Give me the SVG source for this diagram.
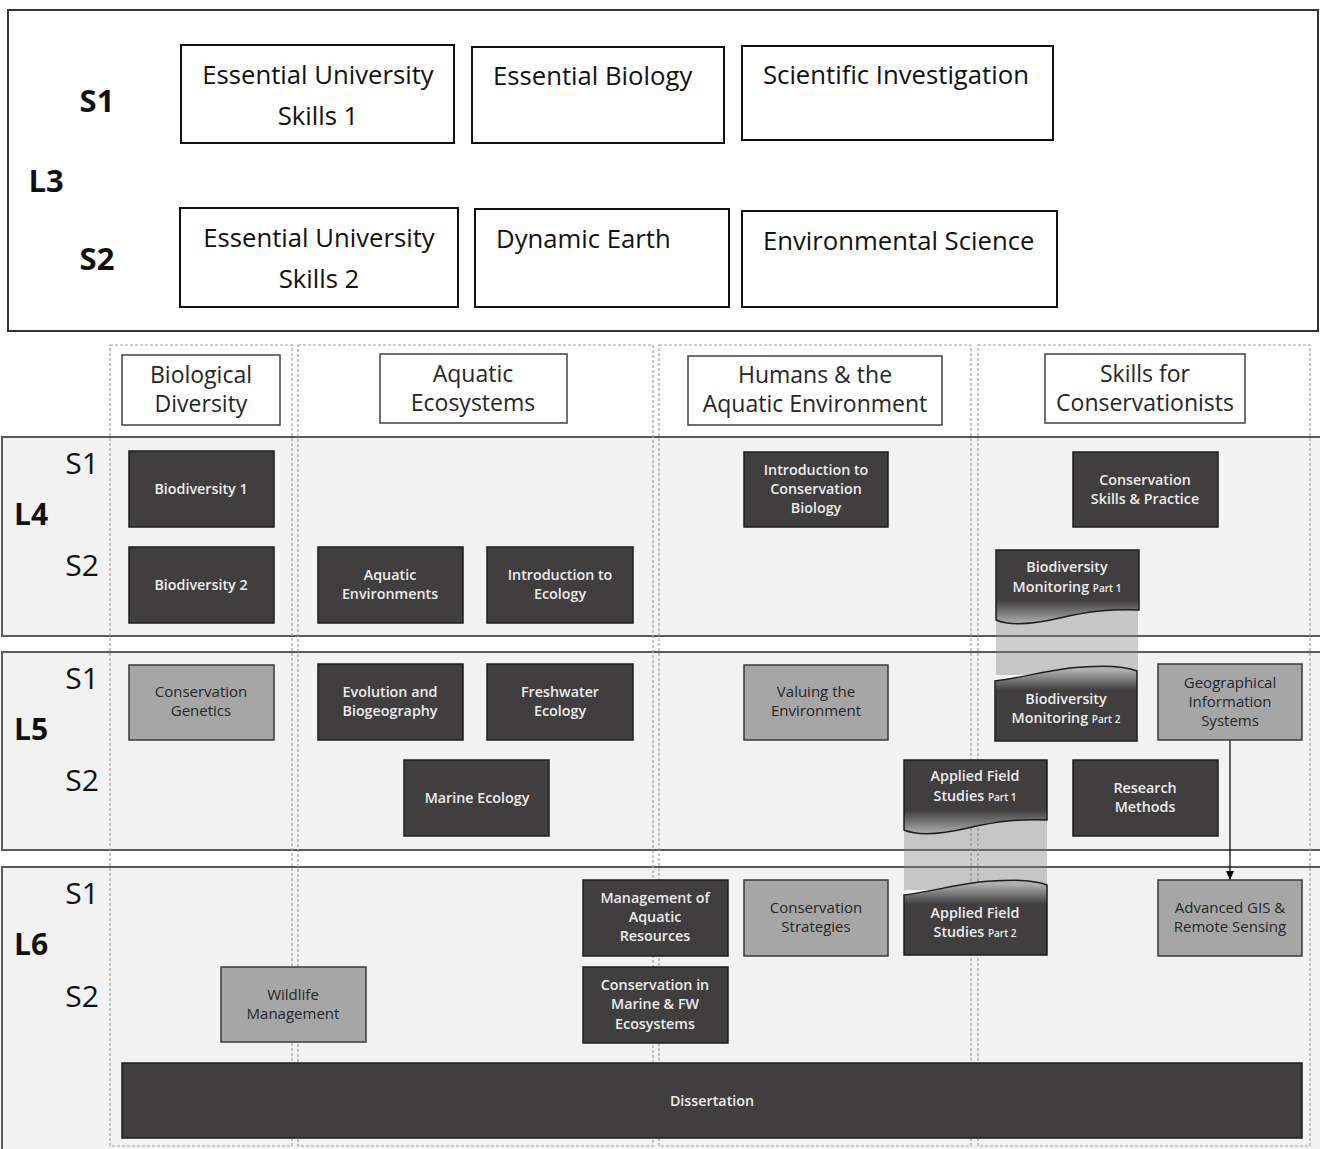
<svg xmlns="http://www.w3.org/2000/svg" width="1320" height="1149" viewBox="0 0 1320 1149">
<defs>
<style>
.top{font-family:"Open Sans","Liberation Sans",sans-serif;font-size:25.7px;fill:#111;}
.box3{fill:#fff;stroke:#111;stroke-width:2;}
.lbl{font-family:"Open Sans","Liberation Sans",sans-serif;font-size:30px;fill:#111;}
.lb3{font-family:"Open Sans","Liberation Sans",sans-serif;font-size:31px;font-weight:bold;fill:#111;}
.b{font-weight:bold;}
.band{fill:#f2f2f2;stroke:#5a5a5a;stroke-width:2;}
.col{fill:none;stroke:#a0a0a0;stroke-width:1.2;stroke-dasharray:3 2;}
.hdr{fill:#fff;stroke:#404040;stroke-width:1.5;}
.htx{font-family:"Open Sans","Liberation Sans",sans-serif;font-size:23px;fill:#262626;text-anchor:middle;}
.dk{fill:#403e3e;stroke:#1e1e1e;stroke-width:1.5;}
.lt{fill:#a6a6a6;stroke:#3a3a3a;stroke-width:1.5;}
.dtx{font-family:"Open Sans","Liberation Sans",sans-serif;font-size:14.3px;font-weight:600;fill:#ececec;text-anchor:middle;}
.ltx{font-family:"Open Sans","Liberation Sans",sans-serif;font-size:15px;fill:#262626;text-anchor:middle;}
.sm{font-size:10px;}
.link{fill:#7f7f7f;opacity:0.38;}
</style>
<linearGradient id="gBot" x1="0" y1="0" x2="0" y2="1">
<stop offset="0.68" stop-color="#403e3e"/>
<stop offset="1" stop-color="#b0b0b0"/>
</linearGradient>
<linearGradient id="gTop" x1="0" y1="0" x2="0" y2="1">
<stop offset="0.05" stop-color="#b0b0b0"/>
<stop offset="0.32" stop-color="#403e3e"/>
</linearGradient>
<marker id="arr" markerWidth="10" markerHeight="10" refX="9" refY="5" orient="auto" markerUnits="userSpaceOnUse">
<path d="M0,1 L9,5 L0,9 Z" fill="#000"/>
</marker>
</defs>
<rect width="1320" height="1149" fill="#fff"/>

<!-- Level 3 panel -->
<g id="level3">
<rect x="8" y="10" width="1310" height="321" fill="#fff" stroke="#333" stroke-width="2"/>
<text class="lb3" x="97" y="112" text-anchor="middle">S1</text>
<text class="lb3" x="46" y="192" text-anchor="middle">L3</text>
<text class="lb3" x="97" y="270" text-anchor="middle">S2</text>
</g>
<g id="eus1"><rect class="box3" x="181" y="45" width="273" height="98"/>
<text class="top" x="318" y="84" text-anchor="middle">Essential University</text>
<text class="top" x="318" y="125" text-anchor="middle">Skills 1</text></g>
<g id="essbio"><rect class="box3" x="472" y="47" width="252" height="96"/>
<text class="top" x="493" y="85">Essential Biology</text></g>
<g id="sciinv"><rect class="box3" x="742" y="46" width="311" height="94"/>
<text class="top" x="763" y="84">Scientific Investigation</text></g>
<g id="eus2"><rect class="box3" x="180" y="208" width="278" height="99"/>
<text class="top" x="319" y="247" text-anchor="middle">Essential University</text>
<text class="top" x="319" y="288" text-anchor="middle">Skills 2</text></g>
<g id="dynearth"><rect class="box3" x="475" y="209" width="254" height="98"/>
<text class="top" x="496" y="248">Dynamic Earth</text></g>
<g id="envsci"><rect class="box3" x="742" y="211" width="315" height="96"/>
<text class="top" x="763" y="250">Environmental Science</text></g>

<!-- Level bands -->
<g id="bands">
<rect class="band" x="2" y="437" width="1330" height="199"/>
<rect class="band" x="2" y="652" width="1330" height="198"/>
<rect class="band" x="2" y="867" width="1330" height="300"/>
<text class="lbl" x="82" y="474" text-anchor="middle">S1</text>
<text class="lbl b" x="31" y="525" text-anchor="middle">L4</text>
<text class="lbl" x="82" y="576" text-anchor="middle">S2</text>
<text class="lbl" x="82" y="689" text-anchor="middle">S1</text>
<text class="lbl b" x="31" y="740" text-anchor="middle">L5</text>
<text class="lbl" x="82" y="791" text-anchor="middle">S2</text>
<text class="lbl" x="82" y="904" text-anchor="middle">S1</text>
<text class="lbl b" x="31" y="955" text-anchor="middle">L6</text>
<text class="lbl" x="82" y="1007" text-anchor="middle">S2</text>
</g>

<!-- Theme columns -->
<g id="col-biodiv"><rect class="col" x="110" y="345" width="182" height="801"/>
<rect class="hdr" x="122" y="355" width="158" height="70"/>
<text class="htx" x="201" y="383">Biological</text><text class="htx" x="201" y="412">Diversity</text></g>
<g id="col-aquatic"><rect class="col" x="298" y="345" width="355" height="801"/>
<rect class="hdr" x="380" y="354" width="187" height="69"/>
<text class="htx" x="473" y="382">Aquatic</text><text class="htx" x="473" y="411">Ecosystems</text></g>
<g id="col-humans"><rect class="col" x="659" y="345" width="312" height="801"/>
<rect class="hdr" x="688" y="356" width="254" height="69"/>
<text class="htx" x="815" y="383">Humans &amp; the</text><text class="htx" x="815" y="412">Aquatic Environment</text></g>
<g id="col-skills"><rect class="col" x="978" y="345" width="332" height="801"/>
<rect class="hdr" x="1045" y="354" width="200" height="69"/>
<text class="htx" x="1145" y="382">Skills for</text><text class="htx" x="1145" y="411">Conservationists</text></g>

<!-- Connectors -->
<g id="connectors">
<rect class="link" x="996" y="605" width="142" height="70"/>
<rect class="link" x="904" y="815" width="143" height="75"/>
<line x1="1230" y1="740" x2="1230" y2="880" stroke="#000" stroke-width="1.2" marker-end="url(#arr)"/>
</g>

<!-- L4 modules -->
<g id="biodiv1"><rect class="dk" x="129" y="451" width="145" height="76"/>
<text class="dtx" x="201" y="494">Biodiversity 1</text></g>
<g id="biodiv2"><rect class="dk" x="129" y="547" width="145" height="76"/>
<text class="dtx" x="201" y="590">Biodiversity 2</text></g>
<g id="aqenv"><rect class="dk" x="318" y="547" width="145" height="76"/>
<text class="dtx" x="390" y="580">Aquatic</text><text class="dtx" x="390" y="599">Environments</text></g>
<g id="introeco"><rect class="dk" x="487" y="547" width="146" height="76"/>
<text class="dtx" x="560" y="580">Introduction to</text><text class="dtx" x="560" y="599">Ecology</text></g>
<g id="introcons"><rect class="dk" x="744" y="452" width="144" height="75"/>
<text class="dtx" x="816" y="475">Introduction to</text><text class="dtx" x="816" y="494">Conservation</text><text class="dtx" x="816" y="513">Biology</text></g>
<g id="consskills"><rect class="dk" x="1073" y="452" width="145" height="75"/>
<text class="dtx" x="1145" y="485">Conservation</text><text class="dtx" x="1145" y="504">Skills &amp; Practice</text></g>
<g id="biomon1"><path d="M996,550 H1139 V610 C1110,609 1090,611 1060,618 C1030,625 1010,626 996,620 Z" fill="url(#gBot)" stroke="#1e1e1e" stroke-width="1.5"/>
<text class="dtx" x="1067" y="572">Biodiversity</text><text class="dtx" x="1067" y="592">Monitoring <tspan class="sm">Part 1</tspan></text></g>

<!-- L5 modules -->
<g id="consgen"><rect class="lt" x="129" y="665" width="145" height="75"/>
<text class="ltx" x="201" y="697">Conservation</text><text class="ltx" x="201" y="716">Genetics</text></g>
<g id="evobio"><rect class="dk" x="318" y="664" width="145" height="76"/>
<text class="dtx" x="390" y="697">Evolution and</text><text class="dtx" x="390" y="716">Biogeography</text></g>
<g id="fweco"><rect class="dk" x="487" y="664" width="146" height="76"/>
<text class="dtx" x="560" y="697">Freshwater</text><text class="dtx" x="560" y="716">Ecology</text></g>
<g id="marineeco"><rect class="dk" x="404" y="760" width="145" height="76"/>
<text class="dtx" x="477" y="803">Marine Ecology</text></g>
<g id="valuing"><rect class="lt" x="744" y="665" width="144" height="75"/>
<text class="ltx" x="816" y="697">Valuing the</text><text class="ltx" x="816" y="716">Environment</text></g>
<g id="biomon2"><path d="M995,681 C1020,678 1040,672 1070,668 C1100,665 1125,666 1137,671 V741 H995 Z" fill="url(#gTop)" stroke="#1e1e1e" stroke-width="1.5"/>
<text class="dtx" x="1066" y="704">Biodiversity</text><text class="dtx" x="1066" y="723">Monitoring <tspan class="sm">Part 2</tspan></text></g>
<g id="gis"><rect class="lt" x="1158" y="664" width="144" height="76"/>
<text class="ltx" x="1230" y="688">Geographical</text><text class="ltx" x="1230" y="707">Information</text><text class="ltx" x="1230" y="726">Systems</text></g>
<g id="afs1"><path d="M904,760 H1047 V820 C1018,819 998,821 968,828 C938,835 918,836 904,830 Z" fill="url(#gBot)" stroke="#1e1e1e" stroke-width="1.5"/>
<text class="dtx" x="975" y="781">Applied Field</text><text class="dtx" x="975" y="801">Studies <tspan class="sm">Part 1</tspan></text></g>
<g id="resmeth"><rect class="dk" x="1073" y="760" width="145" height="76"/>
<text class="dtx" x="1145" y="793">Research</text><text class="dtx" x="1145" y="812">Methods</text></g>

<!-- L6 modules -->
<g id="mgmtaq"><rect class="dk" x="583" y="880" width="145" height="76"/>
<text class="dtx" x="655" y="903">Management of</text><text class="dtx" x="655" y="922">Aquatic</text><text class="dtx" x="655" y="941">Resources</text></g>
<g id="consstrat"><rect class="lt" x="744" y="880" width="144" height="76"/>
<text class="ltx" x="816" y="913">Conservation</text><text class="ltx" x="816" y="932">Strategies</text></g>
<g id="afs2"><path d="M904,895 C929,892 949,886 979,882 C1009,879 1034,880 1047,885 V955 H904 Z" fill="url(#gTop)" stroke="#1e1e1e" stroke-width="1.5"/>
<text class="dtx" x="975" y="918">Applied Field</text><text class="dtx" x="975" y="937">Studies <tspan class="sm">Part 2</tspan></text></g>
<g id="advgis"><rect class="lt" x="1158" y="880" width="144" height="76"/>
<text class="ltx" x="1230" y="913">Advanced GIS &amp;</text><text class="ltx" x="1230" y="932">Remote Sensing</text></g>
<g id="wildlife"><rect class="lt" x="221" y="967" width="145" height="75"/>
<text class="ltx" x="293" y="1000">Wildlife</text><text class="ltx" x="293" y="1019">Management</text></g>
<g id="consmarine"><rect class="dk" x="583" y="967" width="145" height="76"/>
<text class="dtx" x="655" y="990">Conservation in</text><text class="dtx" x="655" y="1009">Marine &amp; FW</text><text class="dtx" x="655" y="1029">Ecosystems</text></g>
<g id="dissertation"><rect class="dk" x="122" y="1063" width="1180" height="75"/>
<text class="dtx" x="712" y="1106">Dissertation</text></g>
</svg>
